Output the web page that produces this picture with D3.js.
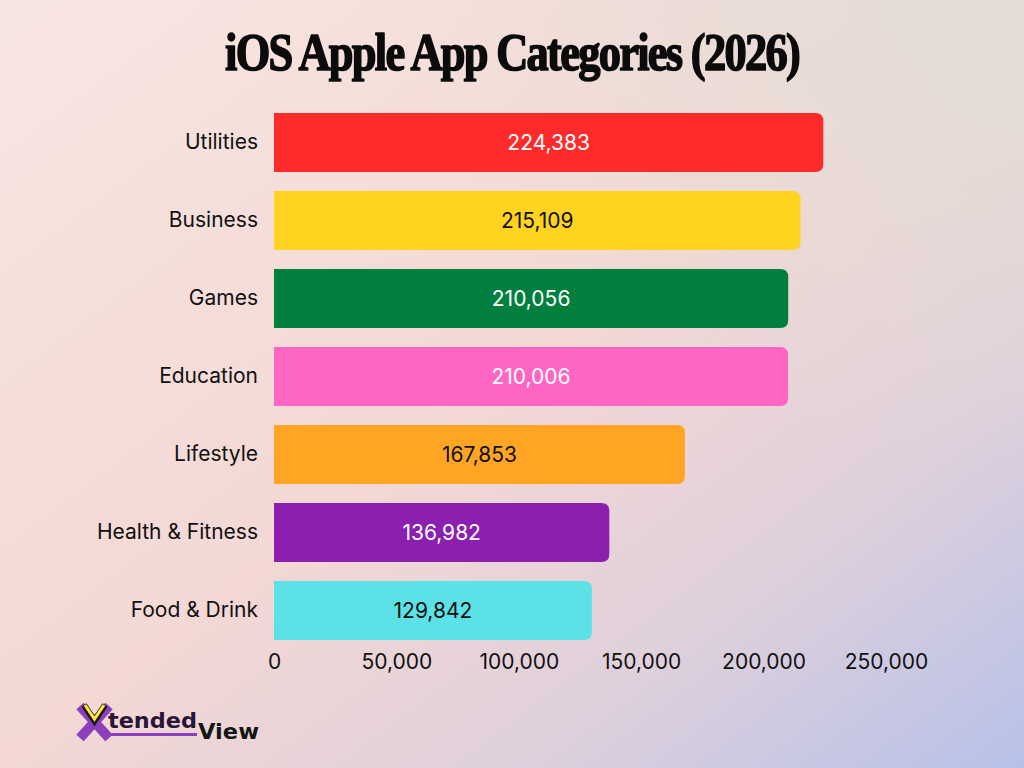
<!DOCTYPE html>
<html>
<head>
<meta charset="utf-8">
<script src="https://cdn.jsdelivr.net/npm/d3@7"></script>
<style>
  html, body { margin: 0; padding: 0; }
  body { width: 1024px; height: 768px; overflow: hidden; }
</style>
</head>
<body>
<div id="chart"></div>
<script>
// Chart data
const categories = ["Utilities", "Business", "Games", "Education", "Lifestyle", "Health & Fitness", "Food & Drink"];
const appCounts = [224383, 215109, 210056, 210006, 167853, 136982, 129842];
const barColours = ["#ff2b2b", "#ffd320", "#007f3f", "#ff66c4", "#ffa523", "#8c1fb0", "#5ce1e6"];
const labelColours = ["#ffffff", "#111111", "#ffffff", "#ffffff", "#111111", "#ffffff", "#111111"];
const tickValues = [0, 50000, 100000, 150000, 200000, 250000];

const width = 1024, height = 768;
const fmt = d3.format(",");

const svg = d3.select("#chart").append("svg")
  .attr("width", width)
  .attr("height", height)
  .attr("viewBox", [0, 0, width, height]);

// Background gradient
const defs = svg.append("defs");
const bg = defs.append("linearGradient")
  .attr("id", "bg")
  .attr("x1", "0%").attr("y1", "0%")
  .attr("x2", "100%").attr("y2", "100%");
bg.append("stop").attr("offset", "0%").attr("stop-color", "#f8e6e2");
bg.append("stop").attr("offset", "50%").attr("stop-color", "#f3d8d4");
bg.append("stop").attr("offset", "75%").attr("stop-color", "#dfd0dc");
bg.append("stop").attr("offset", "100%").attr("stop-color", "#b7c1e8");

const tint = defs.append("radialGradient")
  .attr("id", "tint")
  .attr("cx", "100%").attr("cy", "0%").attr("r", "60%");
tint.append("stop").attr("offset", "0%").attr("stop-color", "#e2ddd6").attr("stop-opacity", 1);
tint.append("stop").attr("offset", "100%").attr("stop-color", "#e2ddd6").attr("stop-opacity", 0);

svg.append("rect").attr("width", width).attr("height", height).attr("fill", "url(#bg)");
svg.append("rect").attr("width", width).attr("height", height).attr("fill", "url(#tint)");

// Title (heavy serif, squeezed to the reference width)
svg.append("text")
  .attr("x", 225)
  .attr("y", 70)
  .attr("textLength", 574)
  .attr("lengthAdjust", "spacingAndGlyphs")
  .attr("font-family", "'Liberation Serif', 'DejaVu Serif', serif")
  .attr("font-weight", "bold")
  .attr("font-size", "52px")
  .attr("letter-spacing", "-2px")
  .attr("fill", "#0b0b0b")
  .attr("stroke", "#0b0b0b")
  .attr("stroke-width", 1.6)
  .attr("stroke-linejoin", "round")
  .text("iOS Apple App Categories (2026)");

// Scales
const x = d3.scaleLinear()
  .domain([0, 250000])
  .range([274, 886]);

const y = d3.scaleBand()
  .domain(categories)
  .range([103.5, 649.5])
  .paddingInner(0.244)
  .paddingOuter(0.122);

// Bar shape: square left side, rounded right corners
function barPath(x0, y0, w, h, r) {
  r = Math.min(r, w / 2, h / 2);
  return `M${x0},${y0}H${x0 + w - r}Q${x0 + w},${y0} ${x0 + w},${y0 + r}` +
    `V${y0 + h - r}Q${x0 + w},${y0 + h} ${x0 + w - r},${y0 + h}H${x0}Z`;
}

const rows = categories.map((c, i) => ({
  label: c, value: appCounts[i], colour: barColours[i], text: labelColours[i]
}));

const g = svg.append("g");

g.selectAll("path.bar")
  .data(rows)
  .join("path")
  .attr("class", "bar")
  .attr("d", d => barPath(x(0), y(d.label), x(d.value) - x(0), y.bandwidth(), 8))
  .attr("fill", d => d.colour);

// Value labels inside bars
g.selectAll("text.value")
  .data(rows)
  .join("text")
  .attr("class", "value")
  .attr("x", d => (x(0) + x(d.value)) / 2)
  .attr("y", d => y(d.label) + y.bandwidth() / 2)
  .attr("dy", "0.35em")
  .attr("text-anchor", "middle")
  .attr("font-family", "Inter, 'Noto Sans', sans-serif")
  .attr("font-size", "21px")
  .attr("fill", d => d.text)
  .text(d => fmt(d.value));

// Category labels
const yAxis = svg.append("g")
  .attr("transform", `translate(${x(0) - 16},0)`)
  .call(d3.axisLeft(y).tickSize(0).tickPadding(0));
yAxis.select(".domain").remove();
yAxis.selectAll(".tick text")
  .attr("font-family", "Inter, 'Noto Sans', sans-serif")
  .attr("font-size", "21px")
  .attr("fill", "#111111");

// Value axis (labels only)
const xAxis = svg.append("g")
  .attr("transform", "translate(0,650)")
  .call(d3.axisBottom(x).tickValues(tickValues).tickFormat(fmt).tickSize(0).tickPadding(4));
xAxis.select(".domain").remove();
xAxis.selectAll(".tick text")
  .attr("font-family", "Inter, 'Noto Sans', sans-serif")
  .attr("font-size", "21px")
  .attr("fill", "#111111");

// Logo
const logo = svg.append("g");
logo.append("line")
  .attr("x1", 80).attr("y1", 706).attr("x2", 109).attr("y2", 738)
  .attr("stroke", "#8b3fbf").attr("stroke-width", 10);
logo.append("line")
  .attr("x1", 109).attr("y1", 706).attr("x2", 80).attr("y2", 738)
  .attr("stroke", "#8b3fbf").attr("stroke-width", 10);
logo.append("path")
  .attr("d", "M84,705 L94.5,721 L105,705")
  .attr("fill", "none").attr("stroke", "#1a1a1a").attr("stroke-width", 6);
logo.append("path")
  .attr("d", "M85,705 L94.5,719 L104,705")
  .attr("fill", "none").attr("stroke", "#ffe83a").attr("stroke-width", 3);
logo.append("rect")
  .attr("x", 100).attr("y", 733).attr("width", 97).attr("height", 3)
  .attr("fill", "#8b3fbf");
logo.append("text")
  .attr("x", 108).attr("y", 728)
  .attr("font-family", "'DejaVu Sans', sans-serif")
  .attr("font-weight", "bold")
  .attr("font-size", "22px")
  .attr("textLength", 89)
  .attr("lengthAdjust", "spacingAndGlyphs")
  .attr("fill", "#2a1538")
  .text("tended");
logo.append("text")
  .attr("x", 198).attr("y", 739)
  .attr("font-family", "'DejaVu Sans', sans-serif")
  .attr("font-weight", "bold")
  .attr("font-size", "22px")
  .attr("textLength", 61)
  .attr("lengthAdjust", "spacingAndGlyphs")
  .attr("fill", "#151515")
  .text("View");
</script>
</body>
</html>
